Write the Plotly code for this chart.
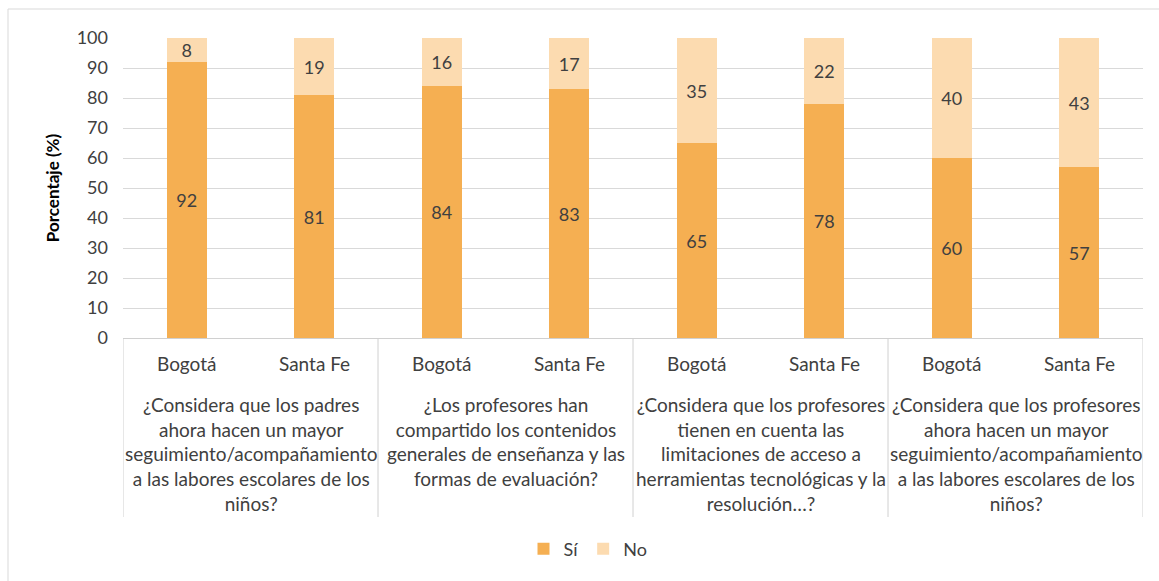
import plotly.graph_objects as go

# Survey questions (outer grouping) and cities (inner grouping)
questions = [
    "¿Considera que los padres<br>ahora hacen un mayor<br>seguimiento/acompañamiento<br>a las labores escolares de los<br>niños?",
    "¿Los profesores han<br>compartido los contenidos<br>generales de enseñanza y las<br>formas de evaluación?",
    "¿Considera que los profesores<br>tienen en cuenta las<br>limitaciones de acceso a<br>herramientas tecnológicas y la<br>resolución…?",
    "¿Considera que los profesores<br>ahora hacen un mayor<br>seguimiento/acompañamiento<br>a las labores escolares de los<br>niños?",
]
cities = ["Bogotá", "Santa Fe"]

si_values = [92, 81, 84, 83, 65, 78, 60, 57]
no_values = [8, 19, 16, 17, 35, 22, 40, 43]

n_city = len(cities)
slots = list(range(len(questions) * n_city))   # one slot per (question, city)

FONT = "Lato, 'Liberation Sans', sans-serif"
TXT = "#404040"
SI_COLOR = "#F5AF52"
NO_COLOR = "#FCDBB0"
GRID = "#D9D9D9"
FRAME = "#D0D0D0"

W, H = 1159, 581
L, R, T, B = 123, 16, 38, 243
pw, ph = W - L - R, H - T - B


def py(pixel_y):
    """Paper y coordinate for a pixel row of the page."""
    return (H - B - pixel_y) / ph


fig = go.Figure()
for name, vals, color in [("Sí", si_values, SI_COLOR), ("No", no_values, NO_COLOR)]:
    fig.add_trace(go.Bar(
        name=name,
        x=slots,
        y=vals,
        width=0.314,
        marker=dict(color=color, line=dict(width=0)),
        text=vals,
        texttemplate="%{text}",
        textposition="inside",
        insidetextanchor="middle",
        textangle=0,
        textfont=dict(family=FONT, size=18, color=TXT),
        constraintext="none",
        hoverinfo="skip",
    ))

annotations = []
# City labels under each bar
for i, s in enumerate(slots):
    annotations.append(dict(
        x=s, xref="x", y=py(363), yref="paper",
        text=cities[i % n_city], showarrow=False,
        xanchor="center", yanchor="middle",
        font=dict(family=FONT, size=19, color=TXT),
    ))
# Question labels centred under each pair of bars
for g, q in enumerate(questions):
    annotations.append(dict(
        x=g * n_city + (n_city - 1) / 2, xref="x", y=py(391), yref="paper",
        text=q, showarrow=False, align="center",
        xanchor="center", yanchor="top",
        font=dict(family=FONT, size=19, color=TXT),
    ))

shapes = []
# Group dividers below the category axis
for g in range(len(questions) + 1):
    shapes.append(dict(
        type="line", xref="x", yref="paper",
        x0=g * n_city - 0.5, x1=g * n_city - 0.5,
        y0=py(338), y1=py(517),
        line=dict(color=FRAME, width=1),
    ))
# Outer frame of the chart
shapes.append(dict(
    type="rect", xref="paper", yref="paper",
    x0=(8 - L) / pw, x1=(W + 4 - L) / pw,
    y0=py(H + 4), y1=py(9),
    line=dict(color=GRID, width=1),
    layer="below",
))

fig.update_layout(
    width=W, height=H,
    barmode="stack",
    margin=dict(l=L, r=R, t=T, b=B),
    paper_bgcolor="white",
    plot_bgcolor="white",
    font=dict(family=FONT, size=18, color=TXT),
    showlegend=True,
    legend=dict(
        orientation="h",
        x=(588 - L) / pw, xanchor="center",
        y=py(549), yanchor="middle",
        font=dict(family=FONT, size=18, color=TXT),
        itemwidth=30,
        traceorder="normal",
    ),
    annotations=annotations,
    shapes=shapes,
)

fig.update_yaxes(
    range=[0, 100],
    dtick=10,
    showgrid=True,
    gridcolor=GRID,
    gridwidth=1,
    zeroline=False,
    showline=False,
    ticks="",
    ticklabelstandoff=14,
    tickfont=dict(family=FONT, size=18, color=TXT),
    title=dict(text="<b>Porcentaje (%)</b>", standoff=12,
               font=dict(family=FONT, size=17, color="black")),
)

fig.update_xaxes(
    range=[slots[0] - 0.5, slots[-1] + 0.5],
    showticklabels=False,
    showgrid=False,
    zeroline=False,
    showline=True,
    linecolor=FRAME,
    linewidth=1,
    ticks="",
)

fig.write_html("out.html")
